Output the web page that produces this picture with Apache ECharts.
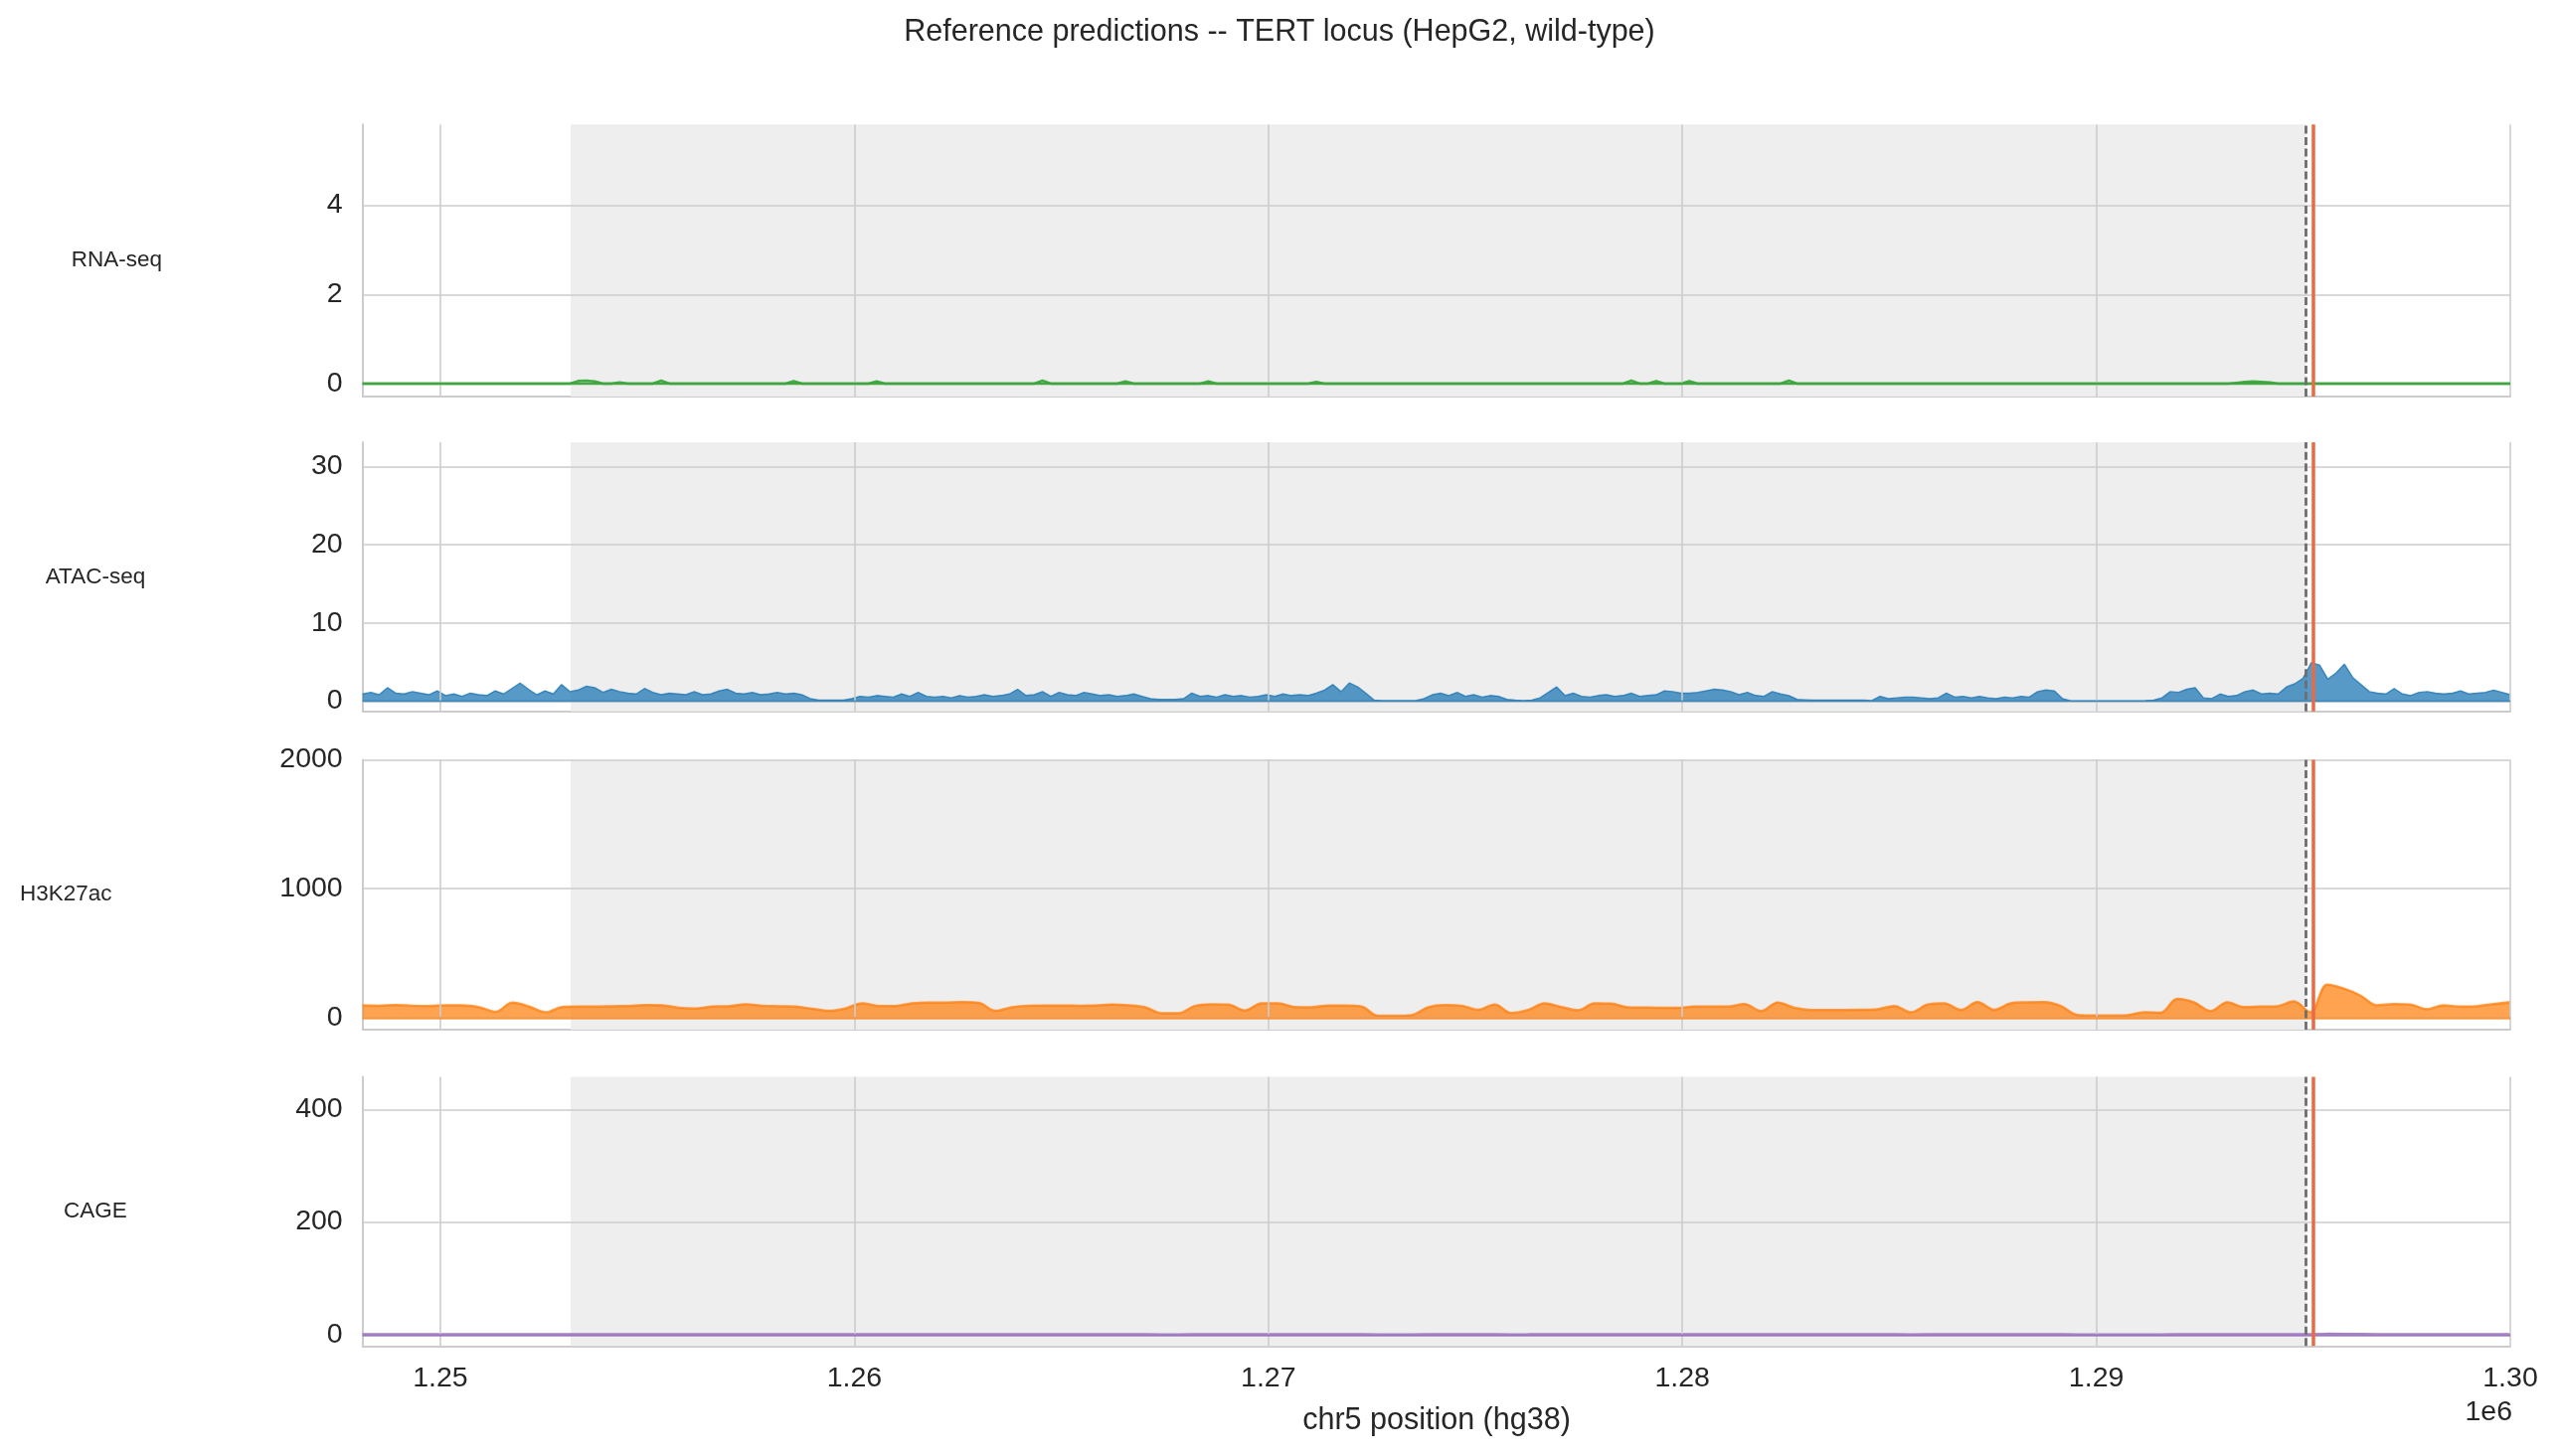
<!DOCTYPE html>
<html>
<head>
<meta charset="utf-8">
<title>Reference predictions -- TERT locus</title>
<script src="https://cdn.jsdelivr.net/npm/echarts@6/dist/echarts.min.js"></script>
<style>
  html, body { margin: 0; padding: 0; background: #ffffff; }
  #chart { width: 2574px; height: 1465px; }
</style>
</head>
<body>
<div id="chart"></div>
<script>
// chr5 window (hg38)
var xMin = 1248120, xMax = 1300000;
var xTicks = [1250000, 1260000, 1270000, 1280000, 1290000, 1300000];
var geneStart = 1253147, geneEnd = 1295068;   // TERT gene body
var tssPos = 1295068;
var mutPos = 1295228;

var trackNames = ['RNA-seq', 'ATAC-seq', 'H3K27ac', 'CAGE'];
var yTicks = [[0, 2, 4], [0, 10, 20, 30], [0, 1000, 2000], [0, 200, 400]];
var yMins = [-0.29, -1.32, -94, -20.3];
var yMaxs = [5.81, 33.1, 2000, 457.9];

// ~200 bp bins across the window
var rnaVals = [
  0,0,0,0,0,0,0,0,0,0,0,0,0,0,0,0,0,0,0,0,
  0,0,0,0,0,0,0.06,0.07,0.05,0,0,0.03,0,0,0,0,0.07,0,0,0,
  0,0,0,0,0,0,0,0,0,0,0,0,0.06,0,0,0,0,0,0,0,
  0,0,0.05,0,0,0,0,0,0,0,0,0,0,0,0,0,0,0,0,0,
  0,0,0.07,0,0,0,0,0,0,0,0,0,0.05,0,0,0,0,0,0,0,
  0,0,0.05,0,0,0,0,0,0,0,0,0,0,0,0,0.04,0,0,0,0,
  0,0,0,0,0,0,0,0,0,0,0,0,0,0,0,0,0,0,0,0,
  0,0,0,0,0,0,0,0,0,0,0,0,0,0.07,0,0,0.06,0,0,0,
  0.06,0,0,0,0,0,0,0,0,0,0,0,0.07,0,0,0,0,0,0,0,
  0,0,0,0,0,0,0,0,0,0,0,0,0,0,0,0,0,0,0,0,
  0,0,0,0,0,0,0,0,0,0,0,0,0,0,0,0,0,0,0,0,
  0,0,0,0,0,0,0.02,0.04,0.05,0.04,0.03,0,0,0,0,0,0,0,0,0,
  0,0,0,0,0,0,0,0,0,0,0,0,0,0,0,0,0,0,0,0
];
var atacVals = [
  0.9,1.1,0.8,1.7,1.0,0.9,1.2,1.0,0.8,1.3,
  0.7,0.9,0.6,1.0,0.8,0.7,1.3,0.9,1.6,2.3,
  1.5,0.8,1.3,0.9,2.1,1.2,1.4,1.9,1.7,1.1,
  1.5,1.2,1.0,0.9,1.6,1.1,0.8,1.0,0.9,0.8,
  1.2,0.8,0.9,1.3,1.5,1.0,0.9,1.1,0.8,0.9,
  1.1,0.9,1.0,0.8,0.3,0.1,0.1,0.1,0.1,0.3,
  0.6,0.5,0.7,0.6,0.5,0.9,0.6,1.1,0.6,0.5,
  0.6,0.4,0.7,0.5,0.6,0.8,0.6,0.7,0.9,1.5,
  0.7,0.8,1.2,0.6,1.1,0.8,0.7,1.1,0.9,0.7,
  0.8,0.6,0.7,0.9,0.6,0.3,0.2,0.2,0.2,0.3,
  1.0,0.6,0.7,0.5,0.8,0.6,0.7,0.5,0.6,0.8,
  0.6,0.9,0.7,0.8,0.7,1.0,1.4,2.1,1.2,2.3,
  1.8,1.0,0.1,0.05,0.05,0.05,0.05,0.05,0.3,0.8,
  1.0,0.7,1.1,0.6,0.8,0.5,0.7,0.6,0.2,0.1,
  0.05,0.1,0.4,1.1,1.8,0.7,1.0,0.6,0.5,0.7,
  0.8,0.6,0.7,1.0,0.6,0.7,0.8,1.3,1.2,1.0,
  1.0,1.1,1.3,1.5,1.4,1.2,0.8,1.1,0.7,0.6,
  1.2,0.9,0.7,0.2,0.15,0.1,0.1,0.1,0.1,0.1,
  0.1,0.1,0.05,0.6,0.3,0.4,0.5,0.5,0.4,0.3,
  0.4,1.0,0.5,0.6,0.4,0.6,0.4,0.3,0.5,0.4,
  0.6,0.5,1.2,1.4,1.3,0.3,0.02,0.02,0.02,0.02,
  0.02,0.02,0.02,0.03,0.03,0.05,0.1,0.4,1.2,1.1,
  1.5,1.7,0.4,0.3,0.9,0.6,0.7,1.2,1.4,0.9,
  1.0,0.9,1.8,2.2,2.9,4.9,4.6,2.8,3.6,4.7,
  3.0,2.1,1.2,1.0,0.9,1.6,0.9,0.7,1.1,1.2,
  1.0,0.9,1.0,1.3,0.9,1.0,1.1,1.4,1.1,0.8
];
// ~400 bp bins across the window
var h3k27acVals = [
  95,92,97,92,90,95,95,80,45,116,
  85,40,82,85,85,88,90,97,95,75,
  70,85,88,103,92,88,85,68,52,70,
  110,90,90,110,116,116,120,115,52,80,
  92,93,93,92,93,100,95,80,33,33,
  90,103,100,55,110,110,82,80,93,93,
  85,13,13,18,80,97,92,60,100,35,
  59,110,82,56,110,108,80,78,75,75,
  85,85,85,105,50,116,75,59,59,59,
  60,64,90,40,100,110,59,120,60,110,
  118,120,90,20,15,15,18,41,38,145,
  118,50,118,82,85,88,125,40,255,225,
  170,95,105,100,65,95,85,88,105,120
];
var cageVals = [
  0.5,0.4,0.5,0.5,0.4,0.5,0.5,0.4,0.4,0.5,
  0.6,0.5,0.5,0.6,0.5,0.5,0.6,0.5,0.5,0.4,
  0.5,0.5,0.5,0.6,0.5,0.5,0.5,0.4,0.4,0.5,
  0.6,0.5,0.5,0.6,0.6,0.6,0.6,0.6,0.4,0.5,
  0.5,0.5,0.5,0.5,0.5,0.6,0.5,0.5,0.3,0.3,
  0.5,0.6,0.6,0.4,0.6,0.6,0.5,0.5,0.5,0.5,
  0.5,0.2,0.2,0.2,0.5,0.5,0.5,0.4,0.5,0.3,
  0.4,0.6,0.5,0.4,0.6,0.6,0.5,0.5,0.5,0.5,
  0.5,0.5,0.5,0.6,0.4,0.6,0.5,0.4,0.4,0.4,
  0.4,0.4,0.5,0.3,0.5,0.6,0.4,0.6,0.4,0.6,
  0.6,0.6,0.5,0.2,0.2,0.2,0.2,0.3,0.3,0.7,
  0.6,0.4,0.6,0.5,0.5,0.5,0.7,0.4,1.2,1.0,
  0.8,0.5,0.6,0.5,0.4,0.5,0.5,0.5,0.6,0.6
];

// layout (px)
var plotLeft = 364.7, plotRight = 49;
var gridTops = [125.3, 445, 764.4, 1083.5];
var gridHeights = [273.7, 270.7, 271.6, 270.8];
var rowLabelX = [117.5, 96, 66.3, 95.8];
var fontFam = "'Liberation Sans', Arial, Helvetica, sans-serif";
var textColor = '#262626';
var gridColor = '#cccccc';

// bins spread evenly over the plotted window
function toPairs(vals) {
    var step = (xMax - xMin) / (vals.length - 1);
    var out = [];
    for (var i = 0; i < vals.length; i++) {
        out.push([xMin + i * step, vals[i]]);
    }
    return out;
}

var trackData = [toPairs(rnaVals), toPairs(atacVals), toPairs(h3k27acVals), toPairs(cageVals)];
var trackStyle = [
    {color: '#2ca02c', width: 2.4, lineOpacity: 0.85, areaOpacity: 0.35, smooth: false},
    {color: '#1f77b4', width: 1.4, lineOpacity: 0.8, areaOpacity: 0.75, smooth: false},
    {color: '#ff7f0e', width: 2.5, lineOpacity: 0.75, areaOpacity: 0.72, smooth: 0.35},
    {color: '#9467bd', width: 2.5, lineOpacity: 0.85, areaOpacity: 0.3, smooth: false}
];

var grids = [], xAxes = [], yAxes = [], series = [], graphics = [];

for (var k = 0; k < 4; k++) {
    grids.push({left: plotLeft, right: plotRight, top: gridTops[k], height: gridHeights[k]});

    xAxes.push({
        gridIndex: k, type: 'value', min: xMin, max: xMax,
        axisLine: {show: true, onZero: false, lineStyle: {color: gridColor, width: 2}},
        axisTick: {show: false},
        splitLine: {show: false},
        axisLabel: {
            show: k === 3,
            customValues: xTicks,
            formatter: function (v) { return (v / 1e6).toFixed(2); },
            fontSize: 28.5, color: textColor, fontFamily: fontFam, margin: 18
        }
    });

    yAxes.push({
        gridIndex: k, type: 'value', min: yMins[k], max: yMaxs[k],
        axisLine: {show: true, onZero: false, lineStyle: {color: gridColor, width: 2}},
        axisTick: {show: false},
        splitLine: {show: false},
        axisLabel: {
            customValues: yTicks[k],
            formatter: function (v) { return String(v); },
            fontSize: 28.5, color: textColor, fontFamily: fontFam, margin: 20
        }
    });

    // gene body shading
    series.push({
        type: 'line', xAxisIndex: k, yAxisIndex: k, data: [], z: 1, silent: true,
        markArea: {
            silent: true,
            itemStyle: {color: '#eeeeee'},
            data: [[{xAxis: geneStart}, {xAxis: geneEnd}]]
        }
    });

    // grid lines
    var gl = [];
    xTicks.forEach(function (v) { gl.push({xAxis: v}); });
    yTicks[k].forEach(function (v) { gl.push({yAxis: v}); });
    series.push({
        type: 'line', xAxisIndex: k, yAxisIndex: k, data: [], z: 2, silent: true,
        markLine: {
            silent: true, symbol: ['none', 'none'], label: {show: false},
            lineStyle: {color: gridColor, width: 1.6, type: 'solid'},
            emphasis: {disabled: true},
            data: gl
        }
    });

    var st = trackStyle[k];
    series.push({
        name: trackNames[k],
        type: 'line', xAxisIndex: k, yAxisIndex: k, z: 3,
        data: trackData[k],
        showSymbol: false, silent: true, smooth: st.smooth,
        lineStyle: {color: st.color, width: st.width, opacity: st.lineOpacity},
        itemStyle: {color: st.color},
        areaStyle: {color: st.color, opacity: st.areaOpacity},
        markLine: {
            silent: true, symbol: ['none', 'none'], label: {show: false},
            lineStyle: {color: st.color, width: st.width, opacity: st.lineOpacity, type: 'solid'},
            data: [{yAxis: 0}]
        }
    });

    // TSS and promoter mutation
    series.push({
        type: 'line', xAxisIndex: k, yAxisIndex: k, data: [], z: 4, silent: true,
        markLine: {
            silent: true, symbol: ['none', 'none'], label: {show: false},
            data: [
                {xAxis: tssPos, lineStyle: {color: '#6e6e6e', width: 2.8, type: [8, 3.5]}},
                {xAxis: mutPos, lineStyle: {color: '#ec6a43', width: 3.5, type: 'solid'}}
            ]
        }
    });

    graphics.push({
        type: 'text', x: rowLabelX[k], y: gridTops[k] + gridHeights[k] / 2,
        style: {text: trackNames[k], font: '22.5px ' + fontFam, fill: textColor,
                textAlign: 'center', textVerticalAlign: 'middle'}
    });
}

graphics.push({
    type: 'text', x: 1287, y: 33,
    style: {text: 'Reference predictions -- TERT locus (HepG2, wild-type)',
            font: '30.5px ' + fontFam, fill: textColor,
            textAlign: 'center', textVerticalAlign: 'middle'}
});
graphics.push({
    type: 'text', x: 1445, y: 1430,
    style: {text: 'chr5 position (hg38)', font: '30.5px ' + fontFam, fill: textColor,
            textAlign: 'center', textVerticalAlign: 'middle'}
});
graphics.push({
    type: 'text', x: 2527, y: 1421.6,
    style: {text: '1e6', font: '28.5px ' + fontFam, fill: textColor,
            textAlign: 'right', textVerticalAlign: 'middle'}
});

var chart = echarts.init(document.getElementById('chart'), null, {renderer: 'canvas'});
chart.setOption({
    animation: false,
    backgroundColor: '#ffffff',
    grid: grids,
    xAxis: xAxes,
    yAxis: yAxes,
    series: series,
    graphic: graphics
});
</script>
</body>
</html>
